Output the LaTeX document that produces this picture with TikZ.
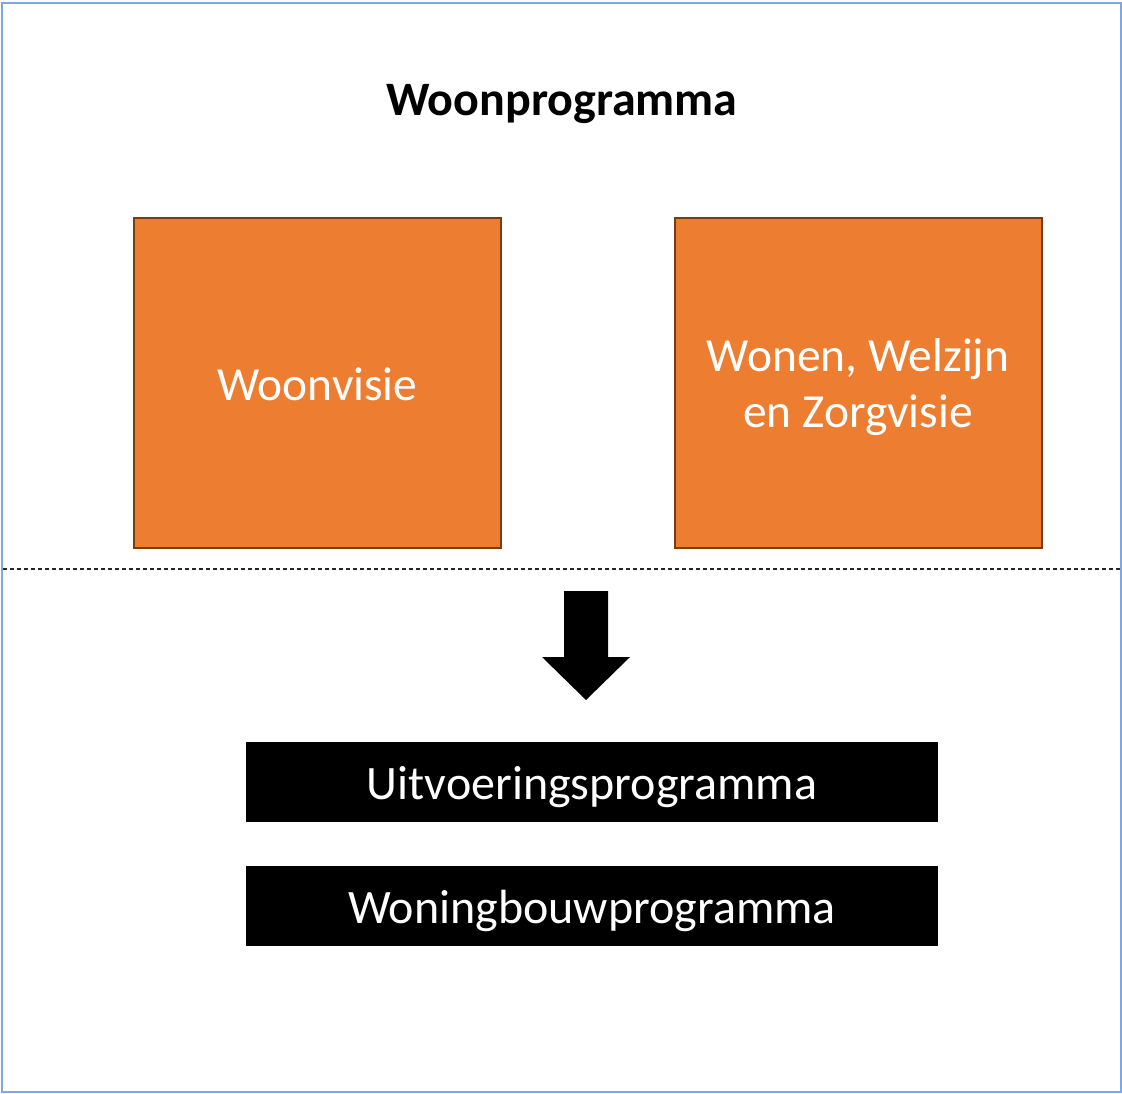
\documentclass[tikz,border=0pt]{standalone}
\usepackage{fontspec}
\setmainfont{Carlito}
\definecolor{frameblue}{HTML}{7FA8DC}
\definecolor{orangefill}{HTML}{ED7D31}
\definecolor{orangeedge}{HTML}{7A3D12}
\newcommand{\lowered}[2]{\raisebox{-#1}[\height][\depth]{#2}}
\tikzset{
  orangebox/.style={draw=orangeedge, line width=2pt, fill=orangefill, text=white, minimum width=367pt, minimum height=330pt, inner sep=0pt, font=\fontsize{47.5}{56}\selectfont, align=center},
  blackbox/.style={fill=black, text=white, minimum width=692pt, minimum height=80pt, inner sep=0pt, font=\fontsize{48}{56}\selectfont},
}
\begin{document}
\begin{tikzpicture}[x=1pt,y=-1pt]
\useasboundingbox (0,0) rectangle (1122,1093);
\draw[frameblue, line width=2pt] (1.5,3) rectangle (1120.5,1091.5);
\node[font=\bfseries\fontsize{48}{56}\selectfont] (title) at (562,104) {Woonprogramma};
\node[orangebox] (visie) at (317.5,383) {\lowered{1.5pt}{Woonvisie}};
\node[orangebox] (zorg) at (858,383) {\lowered{5pt}{\begin{tabular}{@{}c@{}}Wonen, Welzijn\\en Zorgvisie\end{tabular}}};
\coordinate (dl) at (3,569);
\coordinate (dr) at (1121,569);
\draw[black!85, line width=1.2pt, dash pattern=on 4pt off 3pt] (dl) -- (dr);
\fill[black] (564,591) -- (608,591) -- (608,657) -- (630,657) -- (586,700) -- (542,657) -- (564,657) -- cycle;
\node[blackbox] (uitv) at (592,782) {\lowered{5pt}{Uitvoeringsprogramma}};
\node[blackbox] (won) at (592,906) {\lowered{5pt}{Woningbouwprogramma}};
\end{tikzpicture}
\end{document}
